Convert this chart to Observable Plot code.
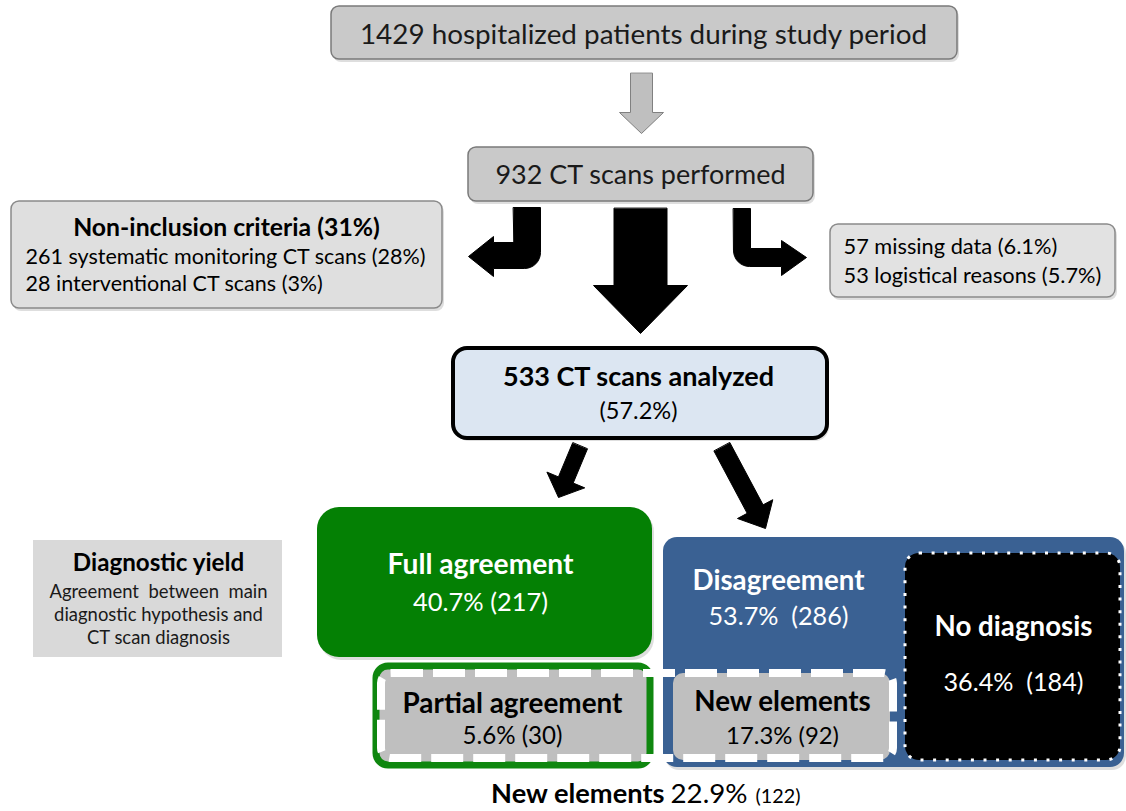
<!DOCTYPE html>
<html>
<head>
<meta charset="utf-8">
<script src="https://cdn.jsdelivr.net/npm/d3@7"></script>
<script src="https://cdn.jsdelivr.net/npm/@observablehq/plot@0.6"></script>
<style>
  html, body { margin: 0; padding: 0; background: #fff; }
  #chart svg { display: block; }
</style>
</head>
<body>
<div id="chart"></div>
<script>
// ---------------- DATA ----------------
const patientsHospitalized = 1429;
const ctPerformed = 932;
const nonInclusionPercent = "31%";
const nonInclusionReasons = ["systematic monitoring CT scans", "interventional CT scans"];
const nonInclusionCounts = [261, 28];
const nonInclusionPercents = ["28%", "3%"];
const otherExclusionReasons = ["missing data", "logistical reasons"];
const otherExclusionCounts = [57, 53];
const otherExclusionPercents = ["6.1%", "5.7%"];
const ctAnalyzed = 533;
const ctAnalyzedPercent = "57.2%";
const outcomeLabels = ["Full agreement", "Disagreement", "No diagnosis", "Partial agreement", "New elements"];
const outcomePercents = ["40.7%", "53.7%", "36.4%", "5.6%", "17.3%"];
const outcomeCounts = [217, 286, 184, 30, 92];
const newElementsTotalLabel = "New elements";
const newElementsTotalPercent = "22.9%";
const newElementsTotalCount = 122;
const yieldTitle = "Diagnostic yield";
const yieldLines = ["Agreement  between  main", "diagnostic hypothesis and", "CT scan diagnosis"];

// ---------------- LAYOUT / STYLE ----------------
const FONT = "Lato, 'Open Sans', sans-serif";
const ctx = document.createElement("canvas").getContext("2d");
function fit(text, bold, width) {
  ctx.font = `${bold ? 700 : 400} 100px Lato`;
  return 100 * width / ctx.measureText(text).width;
}

const boxes = [
  {name: "hospitalized", x1: 331, x2: 957, y1: 6, y2: 59, fill: "#c9c9c9", stroke: "#7a7a7a", sw: 1.5, rx: 8, shadow: true},
  {name: "performed", x1: 468, x2: 813, y1: 147, y2: 201, fill: "#c9c9c9", stroke: "#7a7a7a", sw: 1.5, rx: 8, shadow: true},
  {name: "nonInclusion", x1: 11, x2: 442, y1: 201, y2: 308, fill: "#dfdfdf", stroke: "#8a8a8a", sw: 1.5, rx: 8, shadow: true},
  {name: "other", x1: 830, x2: 1115, y1: 224, y2: 297, fill: "#e2e2e2", stroke: "#8a8a8a", sw: 1.5, rx: 8, shadow: true},
  {name: "analyzed", x1: 453, x2: 827, y1: 348, y2: 438, fill: "#dce6f2", stroke: "#000", sw: 4, rx: 14, shadow: true},
  {name: "yield", x1: 33, x2: 282, y1: 540, y2: 657, fill: "#d9d9d9", stroke: "none", sw: 0, rx: 0, shadow: false},
  {name: "full", x1: 317, x2: 652, y1: 507, y2: 657, fill: "#048004", stroke: "none", sw: 0, rx: 22, shadow: true},
  {name: "disagreement", x1: 663, x2: 1124, y1: 537, y2: 767, fill: "#3a6193", stroke: "none", sw: 0, rx: 14, shadow: true},
  {name: "noDiagnosis", x1: 905, x2: 1120, y1: 553, y2: 760, fill: "#000", stroke: "#fff", sw: 3, rx: 14, dash: "3,9.6", shadow: false},
  {name: "partial", x1: 376, x2: 650, y1: 666, y2: 765, fill: "#bfbfbf", stroke: "#0f870f", sw: 7, rx: 12, shadow: true},
  {name: "newElements", x1: 673, x2: 890, y1: 673, y2: 760, fill: "#bfbfbf", stroke: "none", sw: 0, rx: 10, shadow: false},
  {name: "newGroup", x1: 381, x2: 893, y1: 673, y2: 758, fill: "none", stroke: "#fff", sw: 8, rx: 10, dash: "32,10", shadow: false}
];

// straight block arrows: tail -> tip, shaft width, head width, head length
const straightArrows = [
  {id: "a0", x0: 641, y0: 73, x1: 641, y1: 133, shaft: 22, head: 44, len: 21, fill: "#bfbfbf", stroke: "#808080"},
  {id: "a1", x0: 640, y0: 208, x1: 640, y1: 333, shaft: 53, head: 94, len: 48, fill: "#000", stroke: "#000"},
  {id: "a2", x0: 579.5, y0: 445.5, x1: 558, y1: 497, shaft: 16, head: 41, len: 19, fill: "#000", stroke: "#000"},
  {id: "a3", x0: 721.5, y0: 446.5, x1: 765, y1: 528, shaft: 18, head: 40, len: 22, fill: "#000", stroke: "#000"}
];
function arrowPoints(a) {
  const dx = a.x1 - a.x0, dy = a.y1 - a.y0, L = Math.hypot(dx, dy);
  const ux = dx / L, uy = dy / L, nx = -uy, ny = ux;
  const bx = a.x1 - ux * a.len, by = a.y1 - uy * a.len;
  const s = a.shaft / 2, h = a.head / 2;
  return [
    [a.x0 + nx * s, a.y0 + ny * s], [bx + nx * s, by + ny * s], [bx + nx * h, by + ny * h],
    [a.x1, a.y1],
    [bx - nx * h, by - ny * h], [bx - nx * s, by - ny * s], [a.x0 - nx * s, a.y0 - ny * s]
  ].map(([x, y]) => ({id: a.id, x, y, fill: a.fill, stroke: a.stroke}));
}
function arc(cx, cy, r, a0, a1, id) {
  const pts = [];
  for (let i = 0; i <= 8; i++) {
    const t = (a0 + (a1 - a0) * i / 8) * Math.PI / 180;
    pts.push({id, x: cx + r * Math.cos(t), y: cy + r * Math.sin(t)});
  }
  return pts;
}
// bent arrows (vertical shaft turning left / right)
const bentLeft = [
  {id: "bl", x: 513, y: 207}, {id: "bl", x: 540, y: 207},
  ...arc(524, 252, 16, 0, 90, "bl"),
  {id: "bl", x: 493, y: 268}, {id: "bl", x: 493, y: 276}, {id: "bl", x: 468, y: 256},
  {id: "bl", x: 493, y: 236}, {id: "bl", x: 493, y: 242}, {id: "bl", x: 513, y: 242}
];
const bentRight = [
  {id: "br", x: 733, y: 208}, {id: "br", x: 750, y: 208}, {id: "br", x: 750, y: 248},
  {id: "br", x: 781, y: 248}, {id: "br", x: 781, y: 240}, {id: "br", x: 806, y: 257},
  {id: "br", x: 781, y: 275}, {id: "br", x: 781, y: 266},
  ...arc(749, 250, 16, 90, 180, "br")
];

// texts
const sNonIncl = fit(`${nonInclusionCounts[0]} ${nonInclusionReasons[0]} (${nonInclusionPercents[0]})`, false, 401);
const sOther = fit(`${otherExclusionCounts[1]} ${otherExclusionReasons[1]} (${otherExclusionPercents[1]})`, false, 258);
const sYield = fit(yieldLines[1], false, 209);
const sBottom = fit(newElementsTotalLabel, true, 174);
const texts = [
  {text: `${patientsHospitalized} hospitalized patients during study period`, x: 643, y: 43, w: 568, bold: false, fill: "#1a1a1a"},
  {text: `${ctPerformed} CT scans performed`, x: 640, y: 183, w: 291, bold: false, fill: "#1a1a1a"},
  {text: `Non-inclusion criteria (${nonInclusionPercent})`, x: 226, y: 235, w: 307, bold: true, fill: "#000"},
  {text: `${nonInclusionCounts[0]} ${nonInclusionReasons[0]} (${nonInclusionPercents[0]})`, x: 25, y: 263, size: sNonIncl, anchor: "start", fill: "#000"},
  {text: `${nonInclusionCounts[1]} ${nonInclusionReasons[1]} (${nonInclusionPercents[1]})`, x: 25, y: 290, size: sNonIncl, anchor: "start", fill: "#000"},
  {text: `${otherExclusionCounts[0]} ${otherExclusionReasons[0]} (${otherExclusionPercents[0]})`, x: 843, y: 253, size: sOther, anchor: "start", fill: "#000"},
  {text: `${otherExclusionCounts[1]} ${otherExclusionReasons[1]} (${otherExclusionPercents[1]})`, x: 843, y: 282, size: sOther, anchor: "start", fill: "#000"},
  {text: `${ctAnalyzed} CT scans analyzed`, x: 638, y: 385, w: 272, bold: true, fill: "#000"},
  {text: `(${ctAnalyzedPercent})`, x: 638, y: 418, w: 78, bold: false, fill: "#000"},
  {text: yieldTitle, x: 158, y: 570, w: 172, bold: true, fill: "#000"},
  {text: yieldLines[0], x: 158, y: 597, size: sYield, fill: "#1a1a1a"},
  {text: yieldLines[1], x: 158, y: 620, size: sYield, fill: "#1a1a1a"},
  {text: yieldLines[2], x: 158, y: 643, size: sYield, fill: "#1a1a1a"},
  {text: outcomeLabels[0], x: 480, y: 573, w: 186, bold: true, fill: "#fff"},
  {text: `${outcomePercents[0]} (${outcomeCounts[0]})`, x: 480, y: 610, w: 135, bold: false, fill: "#fff"},
  {text: outcomeLabels[1], x: 778, y: 589, w: 172, bold: true, fill: "#fff"},
  {text: `${outcomePercents[1]}  (${outcomeCounts[1]})`, x: 778, y: 624, w: 140, bold: false, fill: "#fff"},
  {text: outcomeLabels[2], x: 1013, y: 635, w: 158, bold: true, fill: "#fff"},
  {text: `${outcomePercents[2]}  (${outcomeCounts[2]})`, x: 1013, y: 690, w: 140, bold: false, fill: "#fff"},
  {text: outcomeLabels[3], x: 512, y: 712, w: 220, bold: true, fill: "#000"},
  {text: `${outcomePercents[3]} (${outcomeCounts[3]})`, x: 512, y: 743, w: 100, bold: false, fill: "#000"},
  {text: outcomeLabels[4], x: 782, y: 710, w: 177, bold: true, fill: "#000"},
  {text: `${outcomePercents[4]} (${outcomeCounts[4]})`, x: 782, y: 743, w: 113, bold: false, fill: "#000"},
  {text: newElementsTotalLabel, x: 664, y: 802, size: sBottom, bold: true, anchor: "end", fill: "#000"},
  {text: newElementsTotalPercent, x: 670, y: 802, w: 77, bold: false, anchor: "start", fill: "#000"},
  {text: `(${newElementsTotalCount})`, x: 755, y: 802, w: 45, bold: false, anchor: "start", fill: "#000"}
];

// ---------------- MARKS ----------------
const marks = [];
for (const b of boxes.filter(b => b.shadow)) {
  marks.push(Plot.rect([b], {x1: "x1", x2: "x2", y1: "y1", y2: "y2", rx: b.rx, fill: "#000", fillOpacity: 0.13, dx: 2, dy: 3}));
}
for (const b of boxes) {
  marks.push(Plot.rect([b], {
    x1: "x1", x2: "x2", y1: "y1", y2: "y2", rx: b.rx,
    fill: b.fill, stroke: b.stroke, strokeWidth: b.sw, strokeDasharray: b.dash
  }));
}
for (const a of straightArrows) {
  marks.push(Plot.line(arrowPoints(a), {x: "x", y: "y", z: "id", curve: "linear-closed", fill: a.fill, stroke: a.stroke, strokeWidth: 1}));
}
marks.push(Plot.line(bentLeft, {x: "x", y: "y", z: "id", curve: "linear-closed", fill: "#000", stroke: "#000", strokeWidth: 1}));
marks.push(Plot.line(bentRight, {x: "x", y: "y", z: "id", curve: "linear-closed", fill: "#000", stroke: "#000", strokeWidth: 1}));
for (const t of texts) {
  const size = t.size ?? fit(t.text, t.bold, t.w);
  marks.push(Plot.text([t], {
    x: "x", y: "y", text: "text", lineAnchor: "bottom",
    textAnchor: t.anchor ?? "middle", fontSize: size, fontWeight: t.bold ? "bold" : "normal",
    fontFamily: FONT, fill: t.fill
  }));
}

const chart = Plot.plot({
  width: 1126,
  height: 811,
  margin: 0,
  x: {domain: [0, 1126], range: [0, 1126], axis: null},
  y: {domain: [0, 811], range: [0, 811], axis: null},
  style: {background: "#fff", fontFamily: FONT},
  marks
});
document.getElementById("chart").append(chart);
</script>
</body>
</html>
